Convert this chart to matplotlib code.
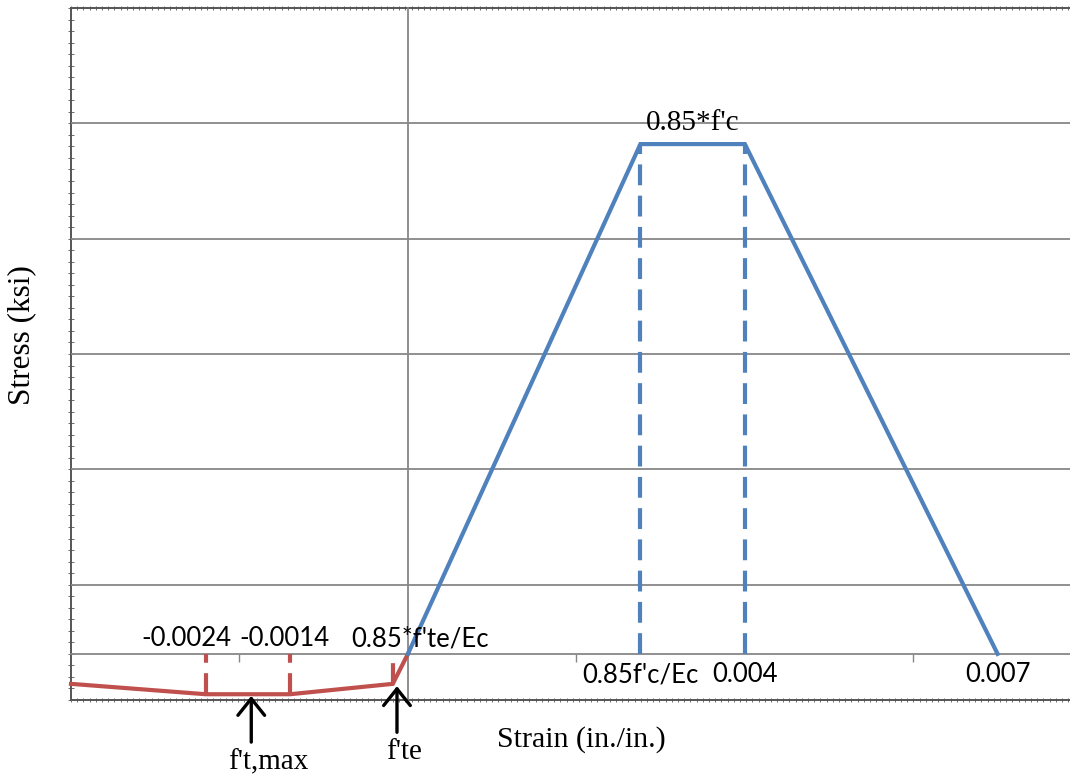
import matplotlib.pyplot as plt
from matplotlib.ticker import MultipleLocator

# tension branch (red) and compression branch (blue), strain in in./in., stress in ksi
tension_strain = [-0.004, -0.0024, -0.0014, -0.00018, 0.0]
tension_stress = [-0.26, -0.35, -0.35, -0.26, 0.0]
comp_strain = [0.0, 0.00276, 0.004, 0.007]
comp_stress = [0.0, 4.42, 4.42, 0.0]

# dashed drop lines
tension_marks = [-0.0024, -0.0014, -0.00018]
tension_mark_stress = [-0.35, -0.35, -0.26]
tension_labels = ['-0.0024', '-0.0014', "0.85*f'te/Ec"]
comp_marks = [0.00276, 0.004]
comp_labels = ["0.85f'c/Ec", '0.004', '0.007']
comp_label_strain = [0.00276, 0.004, 0.007]

# arrows
arrow_strain = [-0.00186, -0.00013]
arrow_stress = [-0.365, -0.28]
arrow_labels = ["f't,max", "f'te"]

BLUE = '#4F81BD'
RED = '#C0504D'
GRID = '#878787'
FRAME = '#555555'
serif = 'Liberation Serif'
sans = 'Lato'

fig = plt.figure(figsize=(10.7, 7.76), dpi=100)
pos = [71/1070, 76/776, 1 - 71/1070, 692/776]
xlim = (-0.004, 0.00786)
ylim = (-0.4, 5.6)

# outer frame with dense little ticks
fr = fig.add_axes(pos)
fr.set_xlim(0, 1)
fr.set_ylim(*ylim)
fr.patch.set_visible(False)
fr.spines['right'].set_visible(False)
for s in ['top', 'bottom', 'left']:
    fr.spines[s].set_color(FRAME)
    fr.spines[s].set_linewidth(1.4)
fr.xaxis.set_major_locator(MultipleLocator(0.0062))
fr.yaxis.set_major_locator(MultipleLocator(0.1))
fr.tick_params(axis='x', which='major', direction='inout', length=3, width=0.6,
               color=FRAME, top=True, bottom=True, labelbottom=False)
fr.tick_params(axis='y', which='major', direction='inout', length=4, width=0.6,
               color=FRAME, left=True, labelleft=False)

ax = fig.add_axes(pos)
ax.patch.set_visible(False)
ax.set_xlim(*xlim)
ax.set_ylim(*ylim)
ax.spines['top'].set_visible(False)
ax.spines['right'].set_visible(False)
ax.spines['bottom'].set_position(('data', 0))
ax.spines['left'].set_position(('data', 0))
for s in ['bottom', 'left']:
    ax.spines[s].set_color(GRID)
    ax.spines[s].set_linewidth(1.3)
ax.set_xticks([-0.002, 0.002, 0.006])
ax.tick_params(axis='x', direction='out', length=6, width=1.0, color=GRID,
               labelbottom=False)
ax.set_yticks([0.6, 1.6, 2.6, 3.6, 4.6])
ax.tick_params(axis='y', length=0, labelleft=False)
ax.grid(axis='y', color=GRID, lw=1.3)
ax.set_axisbelow(True)

# drop lines
ax.vlines(tension_marks, tension_mark_stress, 0, colors=RED, lw=3,
          linestyles=(0, (5, 2.5)), zorder=3)
ax.vlines(comp_marks, 0, max(comp_stress), colors=BLUE, lw=3,
          linestyles=(0, (5, 2.5)), zorder=3)

ax.plot(tension_strain, tension_stress, color=RED, lw=3, zorder=4,
        solid_joinstyle='miter', clip_on=False)
ax.plot(comp_strain, comp_stress, color=BLUE, lw=3, zorder=4,
        solid_joinstyle='miter')

# data labels
for x, lab, dx in zip(tension_marks, tension_labels, [-14, -4, 20]):
    ax.annotate(lab, (x, 0), xytext=(dx, 2), textcoords='offset points',
                ha='center', va='bottom', family=sans, fontsize=18.5, zorder=6)
for x, lab in zip(comp_label_strain, comp_labels):
    ax.annotate(lab, (x, 0), xytext=(0, -6), textcoords='offset points',
                ha='center', va='top', family=sans, fontsize=18.5, zorder=6)
ax.annotate("0.85*f'c", ((comp_strain[1] + comp_strain[2]) / 2, max(comp_stress)),
            xytext=(0, 6), textcoords='offset points', ha='center',
            va='bottom', family=serif, fontsize=21, zorder=6)

# arrows with labels
for x, y, lab, dx in zip(arrow_strain, arrow_stress, arrow_labels, [12, 5]):
    ax.annotate('', (x, y), xytext=(x, y - 0.4), annotation_clip=False,
                arrowprops=dict(arrowstyle='->,head_length=0.5,head_width=0.4',
                                color='black', lw=2.4, mutation_scale=24,
                                shrinkA=0, shrinkB=0))
    ax.annotate(lab, (x, y - 0.4), xytext=(dx, -5), textcoords='offset points',
                ha='center', va='top', family=serif, fontsize=21,
                annotation_clip=False)

fig.text(581/1070, 1 - 740/776, 'Strain (in./in.)', ha='center', va='center',
         family=serif, fontsize=21.5)
fig.text(22/1070, 1 - 335/776, 'Stress (ksi)', ha='center', va='center',
         rotation=90, family=serif, fontsize=22.5)

fig.savefig('out.png', dpi=100)
